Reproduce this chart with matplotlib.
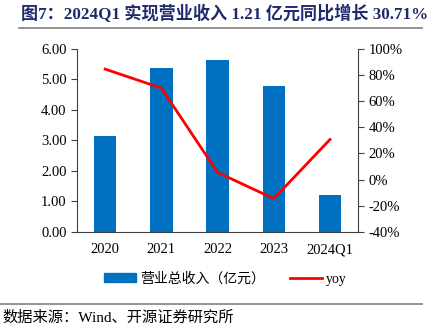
import matplotlib

matplotlib.use("Agg")
import matplotlib.pyplot as plt
from matplotlib.lines import Line2D
import numpy as np

plt.rcParams["font.family"] = ["Liberation Serif", "Noto Sans CJK SC"]

categories = ["2020", "2021", "2022", "2023", "2024Q1"]
revenue = [3.16, 5.37, 5.64, 4.78, 1.21]
yoy = [84.5, 70.0, 5.5, -14.5, 30.71]
left_ticks = [0, 1, 2, 3, 4, 5, 6]
right_ticks = [-40, -20, 0, 20, 40, 60, 80, 100]

BAR_COLOR = "#0070C0"
LINE_COLOR = "#FF0000"

fig = plt.figure(figsize=(4.33, 3.30), dpi=100)
ax = fig.add_axes([0.178, 0.297, 0.649, 0.555])
x = np.arange(len(categories))
ax.bar(x, revenue, width=0.4, color=BAR_COLOR, label="营业总收入（亿元）", zorder=2)
ax.set_ylim(0, 6)
ax.set_yticks(left_ticks)
ax.set_yticklabels([f"{v:.2f}" for v in left_ticks])
ax.set_xlim(-0.5, len(categories) - 0.5)
ax.set_xticks(x)
ax.set_xticklabels(categories)
ax.tick_params(axis="x", length=0, pad=8, labelsize=10.5)
ax.tick_params(axis="y", direction="out", length=4, labelsize=10.5, color="#404040")
for s in ["top", "right"]:
    ax.spines[s].set_visible(False)
ax.spines["left"].set_color("#404040")
ax.spines["bottom"].set_color("#404040")

ax2 = ax.twinx()
ax2.plot(x, yoy, color=LINE_COLOR, linewidth=2, zorder=3)
ax2.set_ylim(-40, 100)
ax2.set_yticks(right_ticks)
ax2.set_yticklabels([f"{v}%" for v in right_ticks])
ax2.tick_params(axis="y", direction="out", length=4, labelsize=10.5, color="#404040")
for s in ["top", "left", "bottom"]:
    ax2.spines[s].set_visible(False)
ax2.spines["right"].set_color("#404040")

handles = [
    plt.Rectangle((0, 0), 1, 1, color=BAR_COLOR),
    Line2D([0], [0], color=LINE_COLOR, linewidth=2),
]
fig.legend(handles, ["营业总收入（亿元）", "yoy"], loc="center", bbox_to_anchor=(0.52, 0.155),
           ncol=2, frameon=False, fontsize=10, handlelength=2.3, handleheight=0.6,
           columnspacing=1.8, handletextpad=0.3)

fig.text(0.048, 0.957, "图7：2024Q1 实现营业收入 1.21 亿元同比增长 30.71%",
         fontsize=12.3, fontweight="bold", color="#1F2A6B", va="center")
fig.add_artist(Line2D([0.045, 0.975], [0.915, 0.915], color="#808080", linewidth=1.2))
fig.add_artist(Line2D([0.0, 0.975], [0.079, 0.079], color="#808080", linewidth=1.2))
fig.text(0.005, 0.036, "数据来源：Wind、开源证券研究所", fontsize=11, va="center")

fig.savefig("out.png", dpi=100)
